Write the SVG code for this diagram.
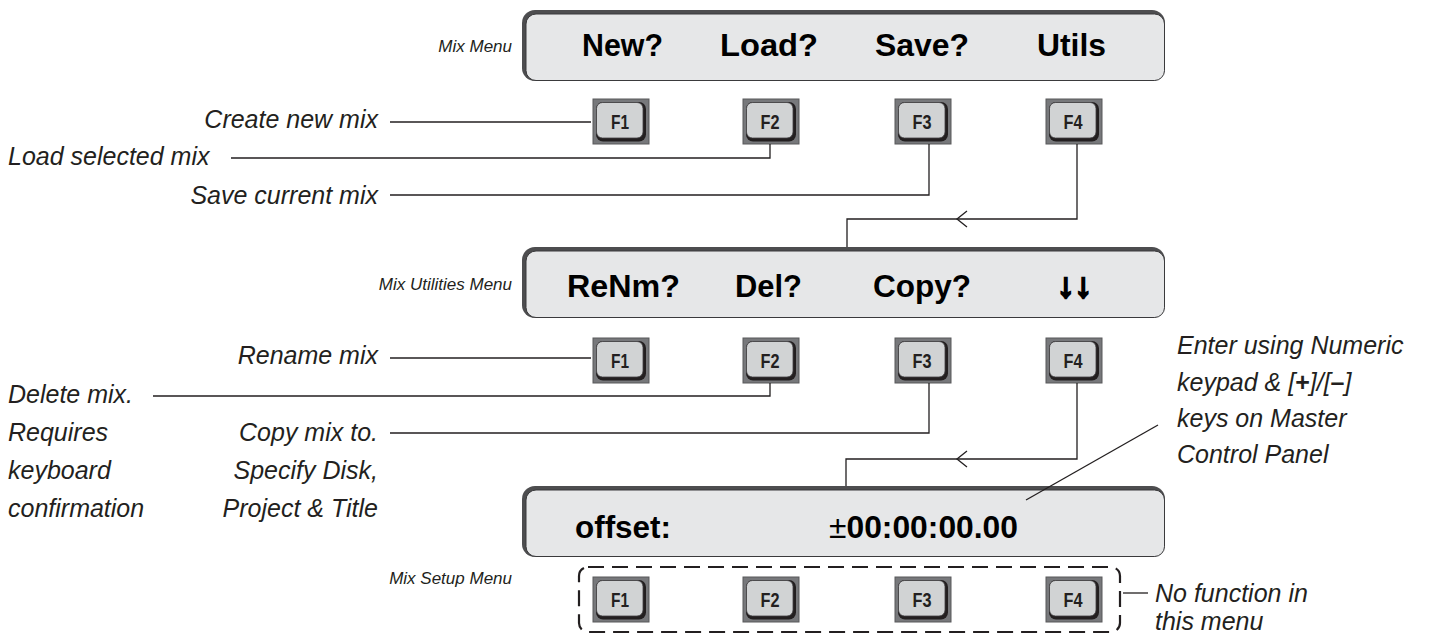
<svg xmlns="http://www.w3.org/2000/svg" width="1430" height="635" viewBox="0 0 1430 635">
<defs>
<style>
.bg{fill:#ffffff}
.lbl{font-family:"Liberation Sans",Arial,sans-serif;font-style:italic;font-size:25px;fill:#231f20}
.sm{font-family:"Liberation Sans",Arial,sans-serif;font-style:italic;font-size:17px;fill:#231f20}
.pt{font-family:"Liberation Sans",Arial,sans-serif;font-weight:bold;font-size:31px;fill:#000}
.arr{font-family:"Liberation Sans",Arial,sans-serif;font-weight:bold;font-size:34px;fill:#000;stroke:#000;stroke-width:2.4;stroke-linejoin:miter}
.kt{font-family:"Liberation Sans",Arial,sans-serif;font-weight:bold;font-size:20px;fill:#231f20;text-anchor:middle}
.psh{fill:#4d4d4f}
.pfill{fill:#e6e7e8;stroke:#3a3a3c;stroke-width:1}
.kout{fill:#77787b;stroke:#58595b;stroke-width:1}
.kdark{fill:#231f20}
.kin{fill:#d1d3d4;stroke:#414042;stroke-width:0.8}
.cn{fill:none;stroke:#231f20;stroke-width:1.3}
.dash{fill:none;stroke:#231f20;stroke-width:2.2;stroke-dasharray:16 8}
</style>
<g id="key">
<rect class="kout" x="0" y="0" width="56" height="45"/>
<rect class="kdark" x="3" y="3" width="50" height="39.5" rx="7"/>
<rect class="kin" x="3.5" y="3.5" width="46.5" height="35.5" rx="6"/>
</g>
</defs>
<rect class="bg" x="0" y="0" width="1430" height="635"/>

<g id="mix-menu">
<rect class="psh" x="522" y="10" width="643" height="71" rx="13"/>
<rect class="pfill" x="526" y="14" width="638.5" height="66.5" rx="10"/>
<text class="pt" x="582" y="56" textLength="81" lengthAdjust="spacingAndGlyphs">New?</text>
<text class="pt" x="720" y="56" textLength="98" lengthAdjust="spacingAndGlyphs">Load?</text>
<text class="pt" x="875" y="56" textLength="94" lengthAdjust="spacingAndGlyphs">Save?</text>
<text class="pt" x="1037" y="56" textLength="69" lengthAdjust="spacingAndGlyphs">Utils</text>
<text class="sm" x="512" y="52" text-anchor="end">Mix Menu</text>
</g>
<g id="menu1-keys">
<use href="#key" x="593" y="99"/><text class="kt" x="620" y="129" textLength="18" lengthAdjust="spacingAndGlyphs">F1</text>
<use href="#key" x="743" y="99"/><text class="kt" x="770" y="129" textLength="19" lengthAdjust="spacingAndGlyphs">F2</text>
<use href="#key" x="895" y="99"/><text class="kt" x="922" y="129" textLength="19" lengthAdjust="spacingAndGlyphs">F3</text>
<use href="#key" x="1046" y="99"/><text class="kt" x="1073" y="129" textLength="19" lengthAdjust="spacingAndGlyphs">F4</text>
</g>

<g id="mix-utilities-menu">
<rect class="psh" x="522" y="247" width="643" height="71" rx="13"/>
<rect class="pfill" x="526" y="251" width="638.5" height="66.5" rx="10"/>
<text class="pt" x="567" y="297" textLength="113" lengthAdjust="spacingAndGlyphs">ReNm?</text>
<text class="pt" x="735" y="297" textLength="67" lengthAdjust="spacingAndGlyphs">Del?</text>
<text class="pt" x="873" y="297" textLength="98" lengthAdjust="spacingAndGlyphs">Copy?</text>
<text class="arr" x="1057" y="297" textLength="35" lengthAdjust="spacingAndGlyphs">↓↓</text>
<text class="sm" x="512" y="290" text-anchor="end">Mix Utilities Menu</text>
</g>
<g id="menu2-keys">
<use href="#key" x="593" y="338"/><text class="kt" x="620" y="368" textLength="18" lengthAdjust="spacingAndGlyphs">F1</text>
<use href="#key" x="743" y="338"/><text class="kt" x="770" y="368" textLength="19" lengthAdjust="spacingAndGlyphs">F2</text>
<use href="#key" x="895" y="338"/><text class="kt" x="922" y="368" textLength="19" lengthAdjust="spacingAndGlyphs">F3</text>
<use href="#key" x="1046" y="338"/><text class="kt" x="1073" y="368" textLength="19" lengthAdjust="spacingAndGlyphs">F4</text>
</g>

<g id="mix-setup-menu">
<rect class="psh" x="522" y="486" width="643" height="71" rx="13"/>
<rect class="pfill" x="526" y="490" width="638.5" height="66.5" rx="10"/>
<text class="pt" x="575" y="538" textLength="96" lengthAdjust="spacingAndGlyphs">offset:</text>
<text class="pt" x="829" y="538" textLength="189" lengthAdjust="spacingAndGlyphs"><tspan font-weight="normal">±</tspan>00:00:00.00</text>
<text class="sm" x="512" y="584" text-anchor="end">Mix Setup Menu</text>
</g>
<g id="menu3-keys">
<rect class="dash" x="579" y="567" width="541" height="65" rx="9"/>
<use href="#key" x="593" y="577"/><text class="kt" x="620" y="607" textLength="18" lengthAdjust="spacingAndGlyphs">F1</text>
<use href="#key" x="743" y="577"/><text class="kt" x="770" y="607" textLength="19" lengthAdjust="spacingAndGlyphs">F2</text>
<use href="#key" x="895" y="577"/><text class="kt" x="922" y="607" textLength="19" lengthAdjust="spacingAndGlyphs">F3</text>
<use href="#key" x="1046" y="577"/><text class="kt" x="1073" y="607" textLength="19" lengthAdjust="spacingAndGlyphs">F4</text>
</g>

<g id="labels">
<text class="lbl" x="378" y="128" text-anchor="end">Create new mix</text>
<text class="lbl" x="8" y="165">Load selected mix</text>
<text class="lbl" x="378" y="204" text-anchor="end">Save current mix</text>
<text class="lbl" x="378" y="364" text-anchor="end">Rename mix</text>
<text class="lbl" x="8" y="403">Delete mix.</text>
<text class="lbl" x="8" y="441">Requires</text>
<text class="lbl" x="8" y="479">keyboard</text>
<text class="lbl" x="8" y="517">confirmation</text>
<text class="lbl" x="378" y="441" text-anchor="end">Copy mix to.</text>
<text class="lbl" x="378" y="479" text-anchor="end">Specify Disk,</text>
<text class="lbl" x="378" y="517" text-anchor="end">Project &amp; Title</text>
<text class="lbl" x="1177" y="354">Enter using Numeric</text>
<text class="lbl" x="1177" y="391">keypad &amp; [<tspan font-weight="bold" font-style="normal">+</tspan>]/[<tspan font-weight="bold" font-style="normal">–</tspan>]</text>
<text class="lbl" x="1177" y="427">keys on Master</text>
<text class="lbl" x="1177" y="463">Control Panel</text>
<text class="lbl" x="1155" y="602">No function in</text>
<text class="lbl" x="1155" y="630">this menu</text>
</g>

<g id="connectors">
<path class="cn" d="M390,122 H591"/>
<path class="cn" d="M231,158 H770 V144"/>
<path class="cn" d="M390,195 H929 V144"/>
<path class="cn" d="M1077,144 V219 H847 V247"/>
<path class="cn" d="M967,211 L957,219 L967,227"/>
<path class="cn" d="M390,358 H591"/>
<path class="cn" d="M153,396 H770 V383"/>
<path class="cn" d="M390,433 H929 V383"/>
<path class="cn" d="M1077,383 V459 H846 V486"/>
<path class="cn" d="M967,451 L957,459 L967,467"/>
<path class="cn" d="M1026,500 L1158,425"/>
<path class="cn" d="M1123,593 H1148"/>
</g>
</svg>
